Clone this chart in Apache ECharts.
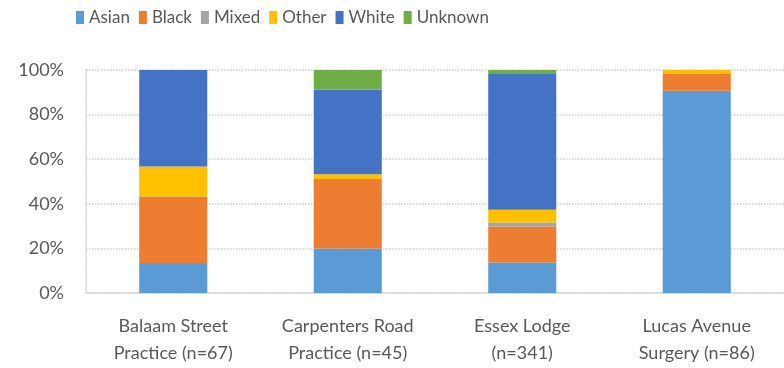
<!DOCTYPE html>
<html><head><meta charset="utf-8">
<script src="https://cdn.jsdelivr.net/npm/echarts@6/dist/echarts.min.js"></script>
<style>html,body{margin:0;padding:0;background:#fff}#c{width:784px;height:368px}</style>
</head><body><div id="c"></div>
<script>
const categories = ['Balaam Street\nPractice (n=67)', 'Carpenters Road\nPractice (n=45)', 'Essex Lodge\n(n=341)', 'Lucas Avenue\nSurgery (n=86)'];
const asian   = [13.4, 20.0, 13.7, 90.7];
const black   = [29.9, 31.1, 16.1, 7.5];
const mixed   = [0, 0, 1.8, 0];
const other   = [13.4, 2.2, 5.7, 1.8];
const white   = [43.3, 37.8, 60.9, 0];
const unknown = [0, 8.9, 1.8, 0];
const yTicks = [0, 20, 40, 60, 80, 100];

const FONT = 'Lato, sans-serif';
const names = ['Asian','Black','Mixed','Other','White','Unknown'];
const colors = ['#5B9BD5','#ED7D31','#A5A5A5','#FFC000','#4472C4','#70AD47'];
const data = [asian, black, mixed, other, white, unknown];

const chart = echarts.init(document.getElementById('c'));
chart.setOption({
  animation: false,
  legend: {
    left: 71, top: 4, itemWidth: 8, itemHeight: 13, itemGap: 9,
    icon: 'rect',
    textStyle: {fontFamily: FONT, fontSize: 17, color: '#595959'},
    data: names
  },
  grid: {left: 86, right: -4, top: 70, bottom: 75, containLabel: false},
  xAxis: {
    type: 'category', data: categories,
    axisTick: {show: false},
    axisLine: {lineStyle: {color: '#d9d9d9', width: 1.5}},
    axisLabel: {interval: 0, hideOverlap: false, fontFamily: FONT, fontSize: 18, color: '#595959', lineHeight: 27, margin: 20}
  },
  yAxis: {
    type: 'value', min: yTicks[0], max: yTicks[yTicks.length-1], interval: 20,
    axisLabel: {formatter: '{value}%', fontFamily: FONT, fontSize: 18, color: '#595959', margin: 22},
    axisLine: {show: true, lineStyle: {color: '#d9d9d9', type: 'dotted', width: 1.5}},
    splitLine: {lineStyle: {color: '#d0d0d0', type: 'dotted', width: 1.5}}
  },
  series: names.map((n, i) => ({
    name: n, type: 'bar', stack: 'all', barWidth: '39%',
    itemStyle: {color: colors[i]},
    data: data[i]
  }))
});
</script></body></html>
